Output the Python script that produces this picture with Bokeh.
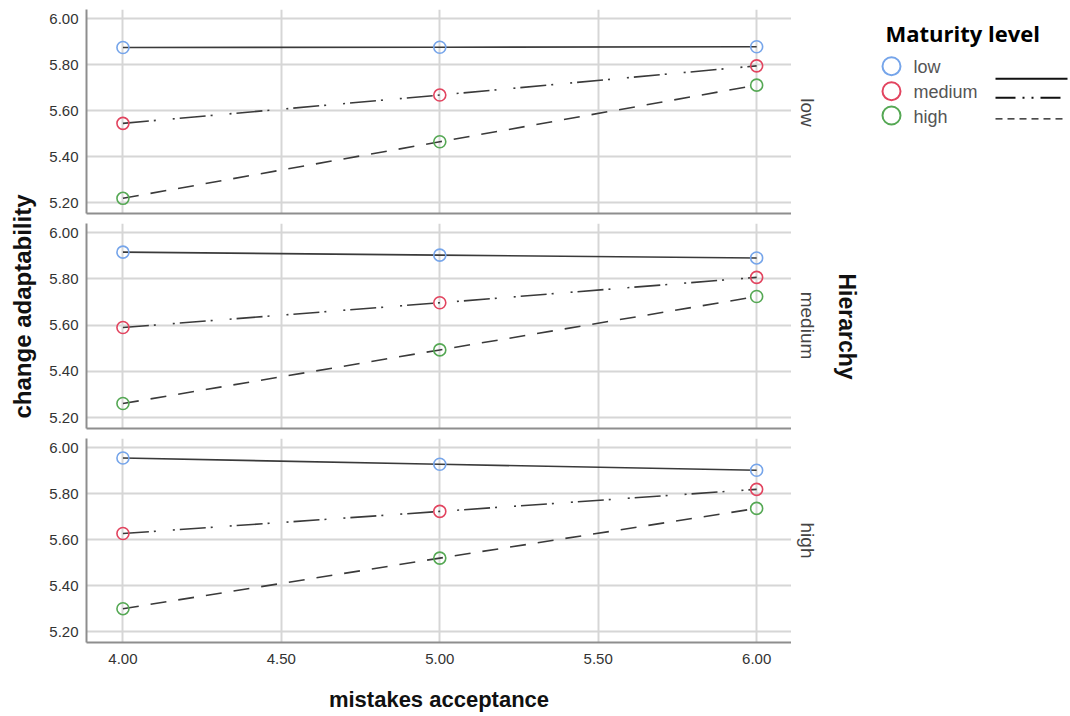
import math
from bokeh.plotting import figure
from bokeh.layouts import row, column
from bokeh.models import Range1d, FixedTicker, NumeralTickFormatter
from bokeh.core.properties import value
from bokeh.embed import file_html
from bokeh.resources import INLINE

# ---------------- data ----------------
mistakes_acceptance = [4.0, 5.0, 6.0]
x_ticks = [4.0, 4.5, 5.0, 5.5, 6.0]
y_ticks = [5.2, 5.4, 5.6, 5.8, 6.0]
hierarchy_levels = ["low", "medium", "high"]
maturity_levels = ["low", "medium", "high"]

# change adaptability, Hierarchy = low
hl_low = [5.875, 5.876, 5.878]
hl_medium = [5.545, 5.668, 5.795]
hl_high = [5.219, 5.465, 5.711]
# Hierarchy = medium
hm_low = [5.916, 5.903, 5.891]
hm_medium = [5.590, 5.697, 5.807]
hm_high = [5.261, 5.493, 5.724]
# Hierarchy = high
hh_low = [5.955, 5.928, 5.902]
hh_medium = [5.627, 5.723, 5.819]
hh_high = [5.300, 5.520, 5.736]

panels = [
    [hl_low, hl_medium, hl_high],
    [hm_low, hm_medium, hm_high],
    [hh_low, hh_medium, hh_high],
]

# ---------------- styles ----------------
marker_colors = ["#76a5ea", "#e2445f", "#55a854"]
plot_dashes = ["solid", "26 5 2 17 2 5", "16 12"]
legend_dashes = ["solid", "20 7 2 7 2 7", "7 5"]
LINE_COLOR = "#3a3a3a"
GRID_COLOR = "#d6d6d6"
AXIS_COLOR = "#8e8e8e"
TICK_COLOR = "#333333"
FONT = "Liberation Sans"

frame_heights = [204, 205, 204]
tops = [9, 5, 5]
bottoms = [5, 5, 72]


def make_panel(i):
    last = i == 2
    p = figure(frame_width=705, frame_height=frame_heights[i],
               x_range=Range1d(3.885, 6.11), y_range=Range1d(5.153, 6.04),
               output_backend="svg", toolbar_location=None,
               min_border_left=48, min_border_right=0,
               min_border_top=tops[i], min_border_bottom=bottoms[i])
    p.outline_line_color = None
    p.background_fill_color = "white"
    # axes
    yax = p.yaxis[0]
    yax.ticker = FixedTicker(ticks=y_ticks)
    yax.formatter = NumeralTickFormatter(format="0.00")
    yax.major_tick_line_color = None
    yax.minor_tick_line_color = None
    yax.major_tick_out = 0
    yax.major_tick_in = 0
    yax.axis_line_color = AXIS_COLOR
    yax.axis_line_width = 2
    yax.major_label_text_font = FONT
    yax.major_label_text_font_size = "15px"
    yax.major_label_text_color = TICK_COLOR
    yax.major_label_standoff = 8

    xax = p.xaxis[0]
    xax.axis_line_color = AXIS_COLOR
    xax.axis_line_width = 2
    xax.major_tick_line_color = None
    xax.minor_tick_line_color = None
    xax.major_tick_out = 0
    xax.major_tick_in = 0
    if last:
        xax.ticker = FixedTicker(ticks=x_ticks)
        xax.formatter = NumeralTickFormatter(format="0.00")
        xax.major_label_text_font = FONT
        xax.major_label_text_font_size = "15px"
        xax.major_label_text_color = TICK_COLOR
        xax.major_label_standoff = 11
        xax.axis_label = "mistakes acceptance"
        xax.axis_label_text_font = FONT
        xax.axis_label_text_font_style = "bold"
        xax.axis_label_text_font_size = "22px"
        xax.axis_label_text_color = "#111111"
        xax.axis_label_standoff = 20
    else:
        xax.ticker = FixedTicker(ticks=[])
        xax.major_label_standoff = 0

    p.xgrid.ticker = FixedTicker(ticks=x_ticks)
    p.ygrid.ticker = FixedTicker(ticks=y_ticks)
    p.grid.grid_line_color = GRID_COLOR
    p.grid.grid_line_width = 2

    series = panels[i]
    for j, ys in enumerate(series):
        p.line(mistakes_acceptance, ys, line_color=LINE_COLOR, line_width=1.6,
               line_dash=plot_dashes[j])
    for j, ys in enumerate(series):
        p.scatter(mistakes_acceptance, ys, marker="circle", size=12,
                  fill_color=None, line_color=marker_colors[j], line_width=1.6)
    return p


p1, p2, p3 = [make_panel(i) for i in range(3)]

# ---------------- left label column ----------------
lf = figure(width=38, height=716, x_range=Range1d(0, 38), y_range=Range1d(716, 0),
            output_backend="svg", toolbar_location=None, min_border=0,
            x_axis_type=None, y_axis_type=None)
lf.outline_line_color = None
lf.text(x=[21.5], y=[306], text=["change adaptability"], angle=math.pi / 2,
        text_align="center", text_baseline="middle",
        text_font=value(FONT), text_font_style="bold",
        text_font_size="24px", text_color="#111111")

# ---------------- right: panel strips + legend ----------------
rf = figure(width=277, height=716, x_range=Range1d(0, 277), y_range=Range1d(716, 0),
            output_backend="svg", toolbar_location=None, min_border=0,
            x_axis_type=None, y_axis_type=None)
rf.outline_line_color = None

strip_y = [112, 325, 540]
rf.text(x=[16, 16, 16], y=strip_y, text=hierarchy_levels, angle=-math.pi / 2,
        text_align="center", text_baseline="middle",
        text_font=value(FONT), text_font_size="19px", text_color="#444444")
rf.text(x=[55], y=[326], text=["Hierarchy"], angle=-math.pi / 2,
        text_align="center", text_baseline="middle",
        text_font=value(FONT), text_font_style="bold",
        text_font_size="23px", text_color="#111111")

# legend
rf.text(x=[94], y=[32.5], text=["Maturity level"], text_align="left",
        text_baseline="middle", text_font=value("Open Sans"),
        text_font_style="bold", text_font_size="22px", text_color="#000000")
leg_y = [65.7, 90.7, 115.0]
for j in range(3):
    rf.scatter([100], [leg_y[j]], marker="circle", size=18, fill_color=None,
               line_color=marker_colors[j], line_width=2)
rf.text(x=[122, 122, 122], y=[v + 1 for v in leg_y], text=maturity_levels,
        text_align="left", text_baseline="middle", text_font=value(FONT),
        text_font_size="18px", text_color="#555555")
line_y = [78.3, 97.3, 118.3]
for j in range(3):
    rf.line([204, 276], [line_y[j], line_y[j]], line_color="#111111",
            line_width=2 if j < 2 else 1.2, line_dash=legend_dashes[j])

layout = row(lf, column(p1, p2, p3), rf)

with open("out.html", "w") as f:
    f.write(file_html(layout, INLINE))
